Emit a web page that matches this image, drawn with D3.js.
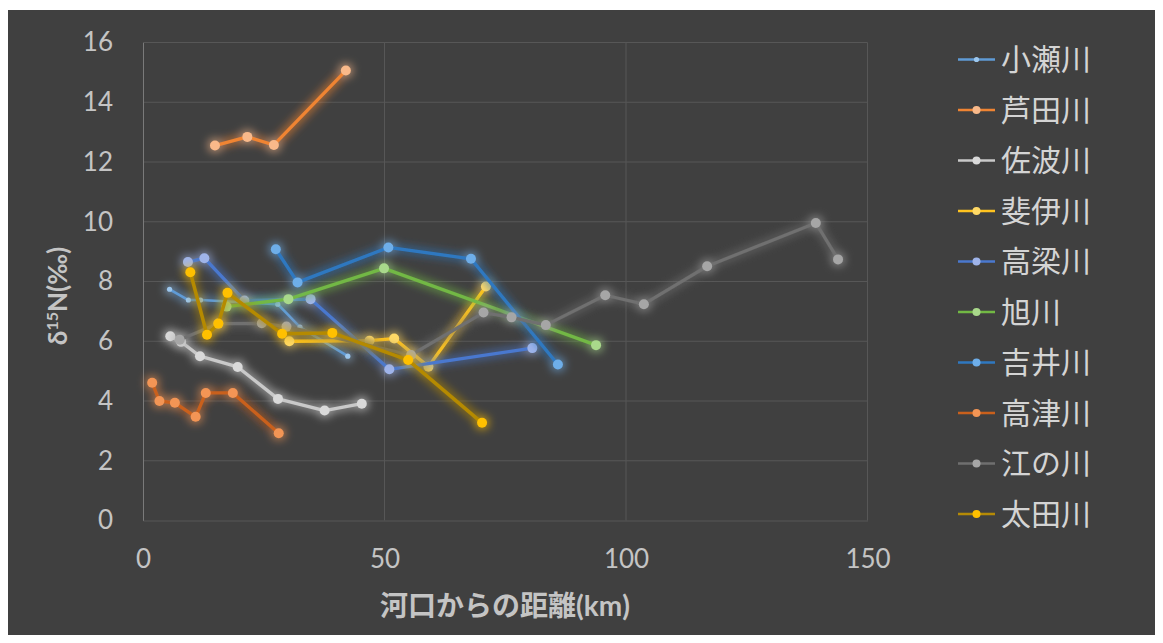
<!DOCTYPE html>
<html>
<head>
<meta charset="utf-8">
<script src="https://cdn.jsdelivr.net/npm/d3@7"></script>
<style>
  html, body { margin: 0; padding: 0; background: #ffffff; }
  svg { display: block; }
  text { font-family: Lato, "Noto Sans CJK JP", "Noto Sans", sans-serif; }
</style>
</head>
<body>
<svg id="chart" width="1163" height="643"></svg>
<script>
// River names (legend order)
const rivers = ["小瀬川", "芦田川", "佐波川", "斐伊川", "高梁川", "旭川", "吉井川", "高津川", "江の川", "太田川"];

// Distance from river mouth (km) and δ15N (‰) for each sampling site
const oseX = [5.5, 9.4, 11.9, 27.9, 32.5, 42.4];
const oseY = [7.74, 7.38, 7.38, 7.24, 6.47, 5.5];

const ashidaX = [14.9, 21.6, 27.1, 42.0];
const ashidaY = [12.55, 12.84, 12.57, 15.06];

const sabaX = [5.65, 7.9, 11.8, 19.6, 27.95, 37.6, 45.3];
const sabaY = [6.17, 5.98, 5.5, 5.14, 4.07, 3.68, 3.91];

const hiiX = [30.3, 46.9, 52.0, 59.1, 71.0];
const hiiY = [6.0, 6.02, 6.09, 5.15, 7.83];

const takahashiX = [9.3, 12.7, 21.0, 34.7, 51.0, 80.6];
const takahashiY = [8.65, 8.78, 7.36, 7.41, 5.06, 5.77];

const asahiX = [17.3, 30.1, 49.9, 93.8];
const asahiY = [7.16, 7.41, 8.44, 5.87];

const yoshiiX = [27.5, 32.0, 50.8, 67.9, 85.9];
const yoshiiY = [9.08, 7.97, 9.14, 8.76, 5.22];

const takatsuX = [1.9, 3.4, 6.6, 10.9, 13.0, 18.6, 28.1];
const takatsuY = [4.61, 4.0, 3.94, 3.47, 4.27, 4.27, 2.92];

const gonoX = [7.6, 15.6, 24.6, 29.7, 55.5, 70.5, 76.3, 83.4, 95.7, 103.7, 116.8, 139.3, 143.9];
const gonoY = [6.05, 6.59, 6.6, 6.49, 5.54, 6.96, 6.8, 6.54, 7.54, 7.24, 8.51, 9.96, 8.74];

const otaX = [9.8, 13.25, 15.6, 17.5, 28.8, 39.2, 54.9, 70.2];
const otaY = [8.31, 6.22, 6.59, 7.62, 6.25, 6.28, 5.37, 3.27];

// Axis ticks
const xTicks = [0, 50, 100, 150];
const yTicks = [0, 2, 4, 6, 8, 10, 12, 14, 16];

// Series styles: line colour, marker colour, marker radius, line width
const lineColors   = ["#5f9bd6", "#ef8433", "#c9c9c9", "#ffc31f", "#4a78cf", "#72b844", "#2f78c0", "#c9601c", "#6f6f6f", "#b58a06"];
const markerColors = ["#9cc7ee", "#f9b98a", "#d9d9d9", "#ffd966", "#9fb4ea", "#a9d98b", "#6eaee9", "#f39555", "#a6a6a6", "#ffc000"];
const markerR      = [2.6, 5, 5, 5, 5, 5, 5, 5, 5, 5];
const lineW        = [2.6, 3.3, 3.3, 3.3, 3.3, 3.3, 3.3, 3.3, 3.3, 3.5];

const seriesX = [oseX, ashidaX, sabaX, hiiX, takahashiX, asahiX, yoshiiX, takatsuX, gonoX, otaX];
const seriesY = [oseY, ashidaY, sabaY, hiiY, takahashiY, asahiY, yoshiiY, takatsuY, gonoY, otaY];

const series = rivers.map((name, i) => ({
  name,
  points: seriesX[i].map((x, j) => ({ x, y: seriesY[i][j] })),
  line: lineColors[i],
  marker: markerColors[i],
  r: markerR[i],
  w: lineW[i]
}));

const svg = d3.select("#chart");

// Dark chart background
svg.append("rect")
  .attr("x", 8).attr("y", 10)
  .attr("width", 1147).attr("height", 625)
  .attr("fill", "#404040");

const x = d3.scaleLinear().domain([0, 150]).range([143, 867.5]);
const y = d3.scaleLinear().domain([0, 16]).range([520.5, 42.5]);

// Soft glow around every series: widened, blurred copy under the crisp marks
const defs = svg.append("defs");
const glow = defs.append("filter").attr("id", "glow")
  .attr("x", "-20%").attr("y", "-20%").attr("width", "140%").attr("height", "140%");
glow.append("feMorphology").attr("in", "SourceGraphic").attr("operator", "dilate").attr("radius", 2).attr("result", "wide");
glow.append("feGaussianBlur").attr("in", "wide").attr("stdDeviation", 4).attr("result", "blur");
glow.append("feComponentTransfer").attr("in", "blur").attr("result", "faint")
  .append("feFuncA").attr("type", "linear").attr("slope", 0.6);
const merge = glow.append("feMerge");
merge.append("feMergeNode").attr("in", "faint");
merge.append("feMergeNode").attr("in", "SourceGraphic");

// Gridlines
const grid = svg.append("g");
grid.selectAll("line.h").data(yTicks.filter(d => d > 0)).join("line")
  .attr("x1", x(0)).attr("x2", x(150))
  .attr("y1", d => y(d)).attr("y2", d => y(d))
  .attr("stroke", "#575757").attr("stroke-width", 1);
grid.selectAll("line.v").data(xTicks.filter(d => d > 0)).join("line")
  .attr("x1", d => x(d)).attr("x2", d => x(d))
  .attr("y1", y(0)).attr("y2", y(16))
  .attr("stroke", "#575757").attr("stroke-width", 1);

// Axes
const yAxis = d3.axisLeft(y).tickValues(yTicks).tickSize(0).tickPadding(30);
const gy = svg.append("g").attr("transform", `translate(${x(0)},0)`).call(yAxis);
gy.select(".domain").attr("stroke", "#7a7a7a");
gy.selectAll("text").attr("fill", "#c4c4c4").attr("font-size", 26);

const xAxis = d3.axisBottom(x).tickValues(xTicks).tickSize(0).tickPadding(29);
const gx = svg.append("g").attr("transform", `translate(0,${y(0)})`).call(xAxis);
gx.select(".domain").attr("stroke", "#575757");
gx.selectAll("text").attr("fill", "#c4c4c4").attr("font-size", 26);

// Axis titles
svg.append("text")
  .attr("x", 505).attr("y", 616)
  .attr("text-anchor", "middle")
  .attr("font-size", 28).attr("font-weight", "bold")
  .attr("fill", "#c4c4c4")
  .text("河口からの距離(km)");

const yt = svg.append("text")
  .attr("transform", "translate(67,296) rotate(-90)")
  .attr("text-anchor", "middle")
  .attr("font-size", 26).attr("font-weight", "bold")
  .attr("fill", "#c4c4c4");
yt.append("tspan").text("δ");
yt.append("tspan").attr("font-size", 16).attr("dy", -9).text("15");
yt.append("tspan").attr("dy", 9).text("N(‰)");

// Series lines and markers
const lineGen = d3.line().x(d => x(d.x)).y(d => y(d.y));
const plot = svg.append("g");
series.forEach(s => {
  const g = plot.append("g").attr("filter", "url(#glow)");
  g.append("path")
    .datum(s.points)
    .attr("d", lineGen)
    .attr("fill", "none")
    .attr("stroke", s.line)
    .attr("stroke-width", s.w)
    .attr("stroke-linejoin", "round");
  g.selectAll("circle").data(s.points).join("circle")
    .attr("cx", d => x(d.x)).attr("cy", d => y(d.y))
    .attr("r", s.r)
    .attr("fill", s.marker);
});

// Legend
const legend = svg.append("g");
series.forEach((s, i) => {
  const ly = 59.5 + i * 50.5;
  const row = legend.append("g");
  row.append("line")
    .attr("x1", 958).attr("x2", 995)
    .attr("y1", ly).attr("y2", ly)
    .attr("stroke", s.line).attr("stroke-width", 2.6);
  row.append("circle")
    .attr("cx", 976.5).attr("cy", ly)
    .attr("r", s.r === 2.6 ? 2.6 : 4)
    .attr("fill", s.marker);
  row.append("text")
    .attr("x", 1001).attr("y", ly)
    .attr("dy", "0.36em")
    .attr("font-size", 30)
    .attr("fill", "#d4d4d4")
    .text(s.name);
});
</script>
</body>
</html>
